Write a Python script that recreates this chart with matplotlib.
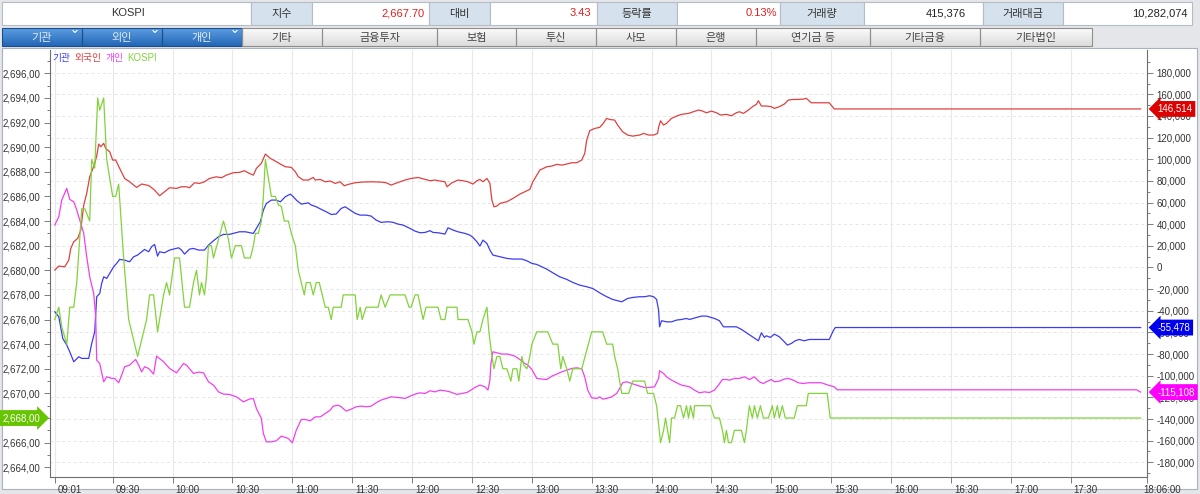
import numpy as np
import matplotlib
matplotlib.use('Agg')
import matplotlib.pyplot as plt
import matplotlib.transforms as mtransforms
from matplotlib.patches import Rectangle
from matplotlib.colors import LinearSegmentedColormap

plt.rcParams['font.family'] = ['Liberation Sans', 'Noto Sans CJK KR', 'DejaVu Sans']

# ---- data (time = minutes after 09:00) ----
info_name = 'KOSPI'
info_labels = ['지수', '대비', '등락률', '거래량', '거래대금']
info_values = ['2,667.70', '3.43', '0.13%', '415,376', '10,282,074']
info_colors = ['#e02020', '#e02020', '#e02020', '#222222', '#222222']
tabs = ['기관', '외인', '개인', '기타', '금융투자', '보험', '투신', '사모', '은행', '연기금 등', '기타금융', '기타법인']

kospi = [(1, 2676), (3, 2677), (4.5, 2675.4), (7, 2674), (8.5, 2677), (10.5, 2677), (12, 2679), (14.5, 2685),
         (16, 2685), (18.5, 2684), (19.5, 2689), (21, 2688.3), (22.5, 2694), (23.5, 2693), (25.5, 2694), (27, 2689),
         (30, 2686), (31.5, 2686), (33, 2687), (35.5, 2681), (38, 2676), (42.5, 2673), (47, 2676), (48.5, 2678),
         (50.5, 2678), (52.5, 2675), (55.5, 2678), (57, 2679), (58.5, 2678), (61, 2681), (63.5, 2681), (66, 2677),
         (68.5, 2677), (70.5, 2679), (72, 2680), (73.5, 2678), (74.5, 2679), (76, 2678), (77, 2679.5), (78, 2682),
         (79.5, 2682), (80.5, 2681), (83, 2682.5), (85.5, 2684), (88, 2682.5), (89.5, 2681), (91.5, 2682), (94.5, 2682),
         (96, 2681), (99, 2681), (100.5, 2682), (101.5, 2683), (103, 2683), (104.5, 2684), (105.5, 2686), (106.5, 2689),
         (108, 2687.5), (109.5, 2686), (111.5, 2686), (113, 2685.3), (114.5, 2685.2), (116, 2684), (118, 2684),
         (119.5, 2683), (121.5, 2682), (123, 2680), (124.5, 2679), (126, 2678), (127, 2679), (129, 2679), (130.5, 2678),
         (132, 2679), (133.5, 2679), (135, 2678), (136.5, 2677), (138, 2677), (139.5, 2676), (140.5, 2677), (144.5, 2677),
         (145.5, 2678), (151.5, 2678), (152.5, 2676), (154, 2677), (155, 2676), (157, 2677), (163, 2677), (164.5, 2678),
         (166.5, 2677), (169, 2678), (176.5, 2678), (178.5, 2677), (179.5, 2677), (181.5, 2678), (183, 2678),
         (185.5, 2676), (187, 2677), (193, 2677), (194.5, 2676), (196.5, 2676), (197.5, 2677), (202.5, 2677), (203, 2676),
         (208, 2676), (210, 2675), (211, 2674), (212.5, 2675), (214, 2675), (215.5, 2676), (217.5, 2677), (218.5, 2675),
         (220, 2673), (221, 2672), (222.5, 2673), (224, 2673), (225.5, 2672), (227.5, 2672), (229.5, 2671), (230.5, 2672),
         (232.5, 2672), (233.5, 2671), (235, 2673), (236, 2672.3), (237.5, 2672), (239, 2673), (240, 2674), (242.5, 2675),
         (248, 2675), (250.5, 2674), (253, 2674), (254.5, 2672), (255.5, 2673), (257.5, 2672), (259, 2671), (260.5, 2672),
         (265, 2672), (267.5, 2673.5), (270, 2675), (275.5, 2675), (277.5, 2674), (280.5, 2674), (281.5, 2673), (283, 2672),
         (285, 2670), (288.5, 2670), (290.5, 2671), (296.5, 2671), (298, 2670), (301, 2670), (302.5, 2669), (304.5, 2666),
         (306, 2667), (307, 2668), (309, 2666), (310, 2668), (311.5, 2668), (313, 2669), (314.5, 2669), (316, 2668),
         (317.5, 2669), (318.5, 2668), (319.5, 2669), (321, 2668), (321.5, 2669), (329.5, 2669), (331.5, 2668), (334, 2668),
         (335.5, 2667), (336.5, 2666), (337.5, 2667), (338.5, 2666), (340, 2666), (341.5, 2667), (345, 2667), (346.5, 2666),
         (347.5, 2667), (349, 2669), (350.5, 2668), (351.5, 2669), (353, 2668), (354.5, 2669), (356, 2668), (358.5, 2668),
         (360.5, 2669), (361.5, 2668), (363, 2669), (364, 2668), (365.5, 2669), (367, 2668), (371.5, 2668), (373, 2669),
         (377.5, 2669), (378.5, 2670), (388, 2670), (389.5, 2668), (545, 2668)]

# 기관
inst = [(1, -40900), (3, -45500), (5, -65600), (7, -71700), (8.5, -77900), (10.5, -87100), (13, -82500), (14.5, -84000),
        (18, -84000), (19.5, -70200), (21, -59400), (21.5, -44000), (22, -27000), (23.5, -24000), (24.5, -14700),
        (25.5, -8600), (27, -10100), (28.5, -5500), (30.5, 700), (32, 3800), (33.5, 7500), (36, 6800), (38.5, 5300),
        (40.5, 9900), (42.5, 11500), (44.5, 14500), (46, 16700), (48, 14500), (49.5, 19200), (51, 21300), (52.5, 10500),
        (53.5, 14500), (56, 13600), (58.5, 16100), (60.5, 17000), (63, 18200), (64.5, 16100), (66, 12400), (68.5, 17000),
        (70.5, 17600), (73, 16100), (76, 16100), (78, 20700), (80.5, 24700), (83, 28400), (85.5, 30600), (88.5, 30600),
        (91, 31800), (93.5, 33000), (96.5, 33000), (100.5, 31500), (102, 36100), (104, 42300), (105.5, 53000),
        (107, 59200), (109.5, 62300), (112, 62300), (114, 60700), (116.5, 65400), (119, 67800), (120.5, 65400),
        (122, 62300), (124.5, 58600), (126.5, 59200), (128, 59800), (129.5, 57700), (132, 56100), (134.5, 53700),
        (137, 51500), (139.5, 49000), (142, 49400), (144.5, 54600), (146.5, 56100), (148.5, 53700), (151.5, 50000),
        (154, 48400), (157, 48400), (159.5, 47500), (162, 43800), (164.5, 41700), (168, 42300), (170.5, 41700),
        (173, 40100), (175.5, 39200), (179, 36100), (181.5, 33600), (184, 32100), (186.5, 32400), (189, 34000),
        (190.5, 32400), (193, 32100), (196.5, 30900), (198, 36700), (200.5, 34600), (203, 33000), (206.5, 31500),
        (209, 29900), (210.5, 27800), (212.5, 23800), (214, 19800), (215.5, 25300), (217.5, 22200), (219, 16100),
        (220.5, 11500), (224, 9900), (227.5, 8400), (230.5, 7800), (235, 7800), (237.5, 6200), (240, 3800), (242.5, 2800),
        (245, 700), (247.5, -1500), (250.5, -4900), (254, -8600), (257.5, -11000), (260.5, -13800), (264, -16300),
        (267.5, -17800), (270.5, -19400), (274, -23400), (277.5, -27000), (280.5, -29500), (285, -31700), (288, -28600),
        (290.5, -27700), (294, -27000), (296.5, -27000), (299, -26100), (301, -27000), (302.5, -29500), (303.5, -39400),
        (304, -54800), (305, -49200), (307.5, -50200), (310, -50200), (312.5, -48600), (315, -48000), (317.5, -47100),
        (319, -48000), (322.5, -46200), (325, -44900), (327.5, -44900), (331.5, -47100), (334, -49200), (336, -54800),
        (342.5, -54800), (345, -57200), (347.5, -60300), (350, -63400), (352.5, -66500), (353.5, -67700), (355, -60300),
        (356.5, -64600), (357.5, -63100), (359.5, -64600), (361.5, -61600), (364, -64000), (366, -67700), (368, -71700),
        (370, -70200), (372, -67700), (374, -66500), (376.5, -67700), (379, -66500), (389, -66500), (391, -58500),
        (392, -55478), (545, -55478)]

# 외국인
frgn = [(1, -2400), (3, 1300), (6, 700), (8, 6800), (9, 17600), (10.5, 23800), (12.5, 26900), (14, 34600),
        (15.5, 57700), (17, 68500), (18.5, 83900), (19.5, 88500), (21, 96200), (22, 103000), (23, 114000), (24, 111600),
        (25.5, 114700), (26.5, 110000), (28.5, 107000), (30, 99300), (31.5, 99300), (33.5, 91600), (36, 82300),
        (38.5, 79200), (42, 74000), (44.5, 77100), (47, 76200), (48.5, 75200), (51, 71500), (53.5, 66300), (56, 70000),
        (58.5, 73700), (62, 73100), (64.5, 74600), (67, 74600), (68.5, 73700), (71, 78300), (73.5, 77700), (76, 79200),
        (78.5, 82300), (82, 83800), (84.5, 82900), (87, 85400), (90.5, 87600), (93.5, 87900), (96, 89400), (98.5, 86900),
        (100.5, 85400), (102, 91600), (104.5, 96200), (106.5, 104800), (109, 100800), (111.5, 98300), (114, 95600),
        (116.5, 93100), (119.5, 92500), (121.5, 88500), (123, 83900), (125.5, 80800), (128, 80800), (129.5, 82300),
        (130.5, 83200), (131.5, 80800), (134, 81400), (136.5, 79200), (139, 79900), (141.5, 77700), (144, 79200),
        (146, 75500), (148, 76800), (151.5, 78300), (154.5, 78900), (159.5, 79200), (164.5, 78900), (167, 78300),
        (169.5, 76200), (173, 78600), (176.5, 80800), (179.5, 82300), (183, 83200), (186.5, 81400), (189, 80200),
        (191.5, 80800), (194, 79900), (196.5, 79200), (197.5, 74600), (200, 78300), (203, 80800), (205.5, 80200),
        (208, 79200), (210.5, 77100), (212.5, 80200), (214, 81400), (215.5, 79200), (216.5, 80800), (217.5, 82300),
        (219, 77700), (220, 62300), (221, 56100), (222.5, 56800), (224, 59200), (227.5, 60800), (230.5, 63800),
        (234, 67800), (237.5, 70900), (239, 72200), (240.5, 79200), (242.5, 85400), (244, 90000), (247.5, 93100),
        (250, 93700), (252.5, 95300), (255, 94600), (257.5, 95600), (260, 96800), (262.5, 96800), (265, 99300),
        (266.5, 105400), (267.5, 117700), (269, 126400), (271.5, 128500), (274, 129500), (275.5, 132500), (277.5, 137800),
        (279, 136800), (281.5, 136200), (283, 131600), (285.5, 125400), (288, 122400), (290.5, 121400), (294, 122400),
        (296, 123900), (298.5, 122400), (301, 122400), (303, 123900), (303.5, 129500), (304.5, 135600), (306, 131600),
        (307.5, 133200), (310, 137800), (312.5, 139900), (315, 141500), (318.5, 142400), (321, 143900), (323.5, 145500),
        (325, 144900), (327.5, 143000), (330, 144500), (332.5, 143000), (334.5, 140900), (337.5, 141500), (340, 140200),
        (342.5, 143000), (344, 143900), (346, 142400), (348.5, 145500), (351, 149200), (352.5, 150700), (353.5, 154100),
        (355, 149200), (357.5, 149200), (360, 148600), (361.5, 147000), (364, 148600), (366.5, 151000), (368.5, 154700),
        (371, 155300), (373.5, 155300), (376, 155600), (377.5, 156300), (380, 152200), (389, 152200), (391.5, 146514),
        (545, 146514)]

# 개인
indiv = [(1, 39200), (3, 46900), (4.5, 62300), (7, 73100), (8.5, 62900), (10.5, 60800), (12, 53100), (13.5, 43800),
         (15.5, 31500), (17, 9900), (18.5, -8600), (20.5, -24000), (21.5, -45500), (22, -85600), (23.5, -88700),
         (25.5, -105600), (27, -101000), (29.5, -102500), (31, -102500), (33, -106500), (34.5, -99400), (36, -91700),
         (38.5, -90200), (41.5, -85000), (43, -90200), (44.5, -96400), (46, -91700), (48, -93300), (50.5, -98500),
         (52, -81900), (55.5, -87100), (58.5, -93300), (62, -97300), (65.5, -88700), (67, -90200), (70.5, -97900),
         (73, -96700), (75.5, -97300), (78, -105600), (80.5, -108700), (83, -114900), (85.5, -117000), (88.5, -117300),
         (92, -119500), (95.5, -124100), (98.5, -121600), (100.5, -121000), (102, -130300), (104.5, -139500),
         (105.5, -153400), (107, -161100), (109.5, -161100), (112, -160100), (114.5, -155800), (116.5, -157100),
         (118, -158000), (120, -162000), (122, -150300), (124.5, -140400), (126.5, -140400), (129, -141700),
         (131.5, -138000), (134, -138000), (136.5, -134900), (139, -131800), (140.5, -128100), (143, -127200),
         (144.5, -128700), (147, -132700), (149.5, -130900), (152, -128700), (154.5, -128100), (157, -128700),
         (159.5, -128100), (162, -125000), (164.5, -122500), (167, -121000), (169.5, -119500), (173, -120100),
         (176.5, -121000), (179, -118900), (181.5, -117000), (184, -115800), (186.5, -116400), (189, -113900),
         (191.5, -114900), (194, -113300), (196.5, -113900), (199, -114900), (202.5, -117300), (205, -116400),
         (207.5, -115500), (210, -112700), (211.5, -110800), (214, -108700), (216.5, -110200), (218, -113300),
         (219, -104100), (219.5, -88700), (220.5, -77900), (222.5, -78800), (225, -80000), (228, -80000),
         (231.5, -81900), (234, -85000), (236.5, -88700), (238, -90200), (240, -94200), (242.5, -102500),
         (245, -103100), (247.5, -103500), (250, -100400), (252.5, -98500), (255, -96400), (257.5, -94800),
         (260, -93300), (262.5, -92700), (265, -93600), (266.5, -101000), (268, -113300), (270, -120400),
         (272.5, -121000), (274, -119500), (275.5, -121600), (277.5, -121000), (280, -119500), (282.5, -116400),
         (284, -111800), (285.5, -106500), (287.5, -105600), (290, -107200), (294, -109600), (296.5, -110800),
         (299, -110800), (301.5, -110200), (303.5, -102500), (304, -95400), (306, -97900), (307.5, -101000),
         (310, -104100), (312.5, -106500), (315, -108700), (317.5, -109600), (319, -110200), (321.5, -113300),
         (324, -115800), (326.5, -114900), (329, -115500), (331.5, -113300), (333.5, -108700), (335.5, -103500),
         (337.5, -103500), (339, -104100), (341.5, -102500), (344, -102500), (346.5, -101000), (349, -103500),
         (351.5, -101000), (354, -105600), (356, -107200), (357.5, -105600), (360, -103500), (361.5, -105600),
         (364, -105000), (366.5, -103100), (368.5, -102500), (371, -104100), (373.5, -106500), (376, -107200),
         (378.5, -106500), (385, -106500), (388.5, -108700), (391.5, -110200), (393, -113000), (543, -113000),
         (545, -115108)]

xtick_pos = [1, 30, 60, 90, 120, 150, 180, 210, 240, 270, 300, 330, 360, 390, 420, 450, 480, 510, 548.2]
xtick_lab = ['09:01', '09:30', '10:00', '10:30', '11:00', '11:30', '12:00', '12:30', '13:00', '13:30',
             '14:00', '14:30', '15:00', '15:30', '16:00', '16:30', '17:00', '17:30', '18:06:00']

series = [('기관', inst, '#3c3cf0', '#0000ee'),
          ('외국인', frgn, '#e04040', '#dd0000'),
          ('개인', indiv, '#f040f0', '#ff00ff')]
kospi_color = '#82d23c'
kospi_box = '#66c400'

W, H = 1200, 494
fig = plt.figure(figsize=(W / 100, H / 100), dpi=100)
fig.patch.set_facecolor('#e4e6e9')

# 배경/헤더 (픽셀 좌표)
bg = fig.add_axes([0, 0, 1, 1])
bg.set_zorder(0)
bg.axis('off')


def gbox(x0, x1, y0, y1, ctop, cbot, ec):
    grad = np.linspace(0, 1, 32).reshape(-1, 1)
    cmap = LinearSegmentedColormap.from_list('g', [ctop, cbot])
    bg.imshow(grad, cmap=cmap, extent=(x0, x1, y1, y0), aspect='auto', zorder=1)
    bg.add_patch(Rectangle((x0, y0), x1 - x0, y1 - y0, fill=False, ec=ec, lw=0.8, zorder=2))


# 1행: 종목 정보
bg.add_patch(Rectangle((2, 2), 249, 23, fc='white', ec='#b4bcc6', lw=0.8))
bg.text(128, 13.5, info_name, ha='center', va='center', fontsize=8, color='#333333')
cells = [(251, 312, 429), (429, 490, 597), (597, 677, 780), (780, 864, 983), (983, 1063, 1192)]
val_right = [425, 591, 777, 966, 1188]
for (a, b, c), lab, val, col, xr in zip(cells, info_labels, info_values, info_colors, val_right):
    bg.add_patch(Rectangle((a, 2), b - a, 23, fc='#d5e1ec', ec='#b4bcc6', lw=0.8))
    bg.add_patch(Rectangle((b, 2), c - b, 23, fc='white', ec='#b4bcc6', lw=0.8))
    bg.text((a + b) / 2, 13.5, lab, ha='center', va='center', fontsize=8, color='#333333')
    bg.text(xr, 13.5, val, ha='right', va='center', fontsize=8, color=col)

# 2행: 탭 버튼
edges = [2, 82, 162, 242, 322, 437, 516, 596, 676, 756, 870, 980, 1092]
for i, name in enumerate(tabs):
    x0, x1 = edges[i], edges[i + 1]
    if i < 3:
        gbox(x0, x1, 28, 46, '#5c9de2', '#2467b6', '#1d4f8c')
        bg.text((x0 + x1) / 2, 37.5, name, ha='center', va='center', fontsize=8, color='#e4ecf7')
        bg.plot([x1 - 9, x1 - 7, x1 - 5], [30.5, 32.5, 30.5], color='white', lw=0.8, zorder=3)
    else:
        gbox(x0, x1, 28, 46, '#fbfbfb', '#dcdcdc', '#8e8e8e')
        bg.text((x0 + x1) / 2, 37.5, name, ha='center', va='center', fontsize=8, color='#444444')

# 차트 패널
bg.add_patch(Rectangle((2, 48), 1195, 441, fc='white', ec='#a9b1bb', lw=0.8, zorder=0.5))
bg.set_xlim(0, W)
bg.set_ylim(H, 0)

# 메인 차트: ax = 투자자(오른쪽 축), axk = KOSPI(왼쪽 축)
ax = fig.add_axes([50 / W, (H - 477) / H, 1097 / W, 427 / H])
ax.set_zorder(2)
ax.set_facecolor('white')
axk = ax.twinx()
axk.set_zorder(3)
axk.patch.set_visible(False)

for name, data, lc, bc in series:
    t, v = zip(*data)
    ax.plot(t, v, color=lc, lw=0.9)
t, v = zip(*kospi)
axk.plot(t, v, color=kospi_color, lw=0.9)

ax.set_xlim(-1.4, 548.2)
ax.set_ylim(-193583, 200975)
axk.set_ylim(2663.21, 2697.89)

# 오른쪽 축
ax.yaxis.tick_right()
rt = np.arange(-180000, 180001, 20000)
ax.set_yticks(rt)
ax.set_yticklabels([f'{int(r):,}' for r in rt])
ax.set_yticks(np.arange(-190000, 190001, 10000), minor=True)
ax.tick_params(axis='y', which='major', length=4, width=0.6, color='#666666',
               labelsize=7, labelcolor='#333333', pad=3)
ax.tick_params(axis='y', which='minor', length=2, width=0.6, color='#666666')
ax.grid(axis='y', color='#e6e6e6', lw=0.7, ls=(0, (3, 3)))

# 왼쪽 축 (KOSPI)
axk.yaxis.tick_left()
lt = np.arange(2664, 2697, 2)
axk.set_yticks(lt)
axk.set_yticklabels([f'{v:,.2f}'.replace('.', ',') for v in lt])
axk.set_yticks(np.arange(2664, 2698, 1), minor=True)
axk.tick_params(axis='y', which='major', length=4, width=0.6, color='#666666',
                labelsize=7, labelcolor='#333333', pad=3)
axk.tick_params(axis='y', which='minor', length=2, width=0.6, color='#666666')

# x축
ax.set_xticks(xtick_pos)
ax.set_xticklabels(xtick_lab)
ax.tick_params(axis='x', length=4, width=0.6, color='#666666', labelsize=7, labelcolor='#333333', pad=2)
ax.grid(axis='x', color='#e8e8e8', lw=0.8)
for i, lab in enumerate(ax.get_xticklabels()):
    dx = -0.04 if i == len(xtick_lab) - 1 else 0.03
    lab.set_ha('left')
    lab.set_transform(lab.get_transform() + mtransforms.ScaledTranslation(dx, 0, fig.dpi_scale_trans))

for sp in ['left', 'right', 'bottom']:
    ax.spines[sp].set_color('#6e6e6e')
    ax.spines[sp].set_linewidth(0.8)
ax.spines['top'].set_visible(False)
for sp in axk.spines.values():
    sp.set_visible(False)

# 끝값 라벨 (오른쪽 축 위에 겹쳐 표시)
for name, data, lc, bc in series:
    last = data[-1][1]
    ax.annotate(f'{last:,}', xy=(1, last), xycoords=('axes fraction', 'data'),
                xytext=(7.5, 0), textcoords='offset points', ha='left', va='center',
                fontsize=7, color='white', annotation_clip=False, zorder=5,
                bbox=dict(boxstyle='larrow,pad=0.3', fc=bc, ec='none'))
klast = kospi[-1][1]
axk.annotate(f'{klast:,.2f}'.replace('.', ','), xy=(0, klast), xycoords=('axes fraction', 'data'),
             xytext=(-7, 0), textcoords='offset points', ha='right', va='center',
             fontsize=7, color='white', annotation_clip=False, zorder=5,
             bbox=dict(boxstyle='rarrow,pad=0.3', fc=kospi_box, ec='none'))

# 범례 텍스트
lx = [52, 74, 106, 127]
for x0, (name, col) in zip(lx, [('기관', '#3c3cf0'), ('외국인', '#e04040'), ('개인', '#f040f0'), ('KOSPI', kospi_color)]):
    fig.text(x0 / W, 1 - 58 / H, name, ha='left', va='center', fontsize=7, color=col, zorder=10)

fig.savefig('out.png', dpi=100, facecolor=fig.get_facecolor())
